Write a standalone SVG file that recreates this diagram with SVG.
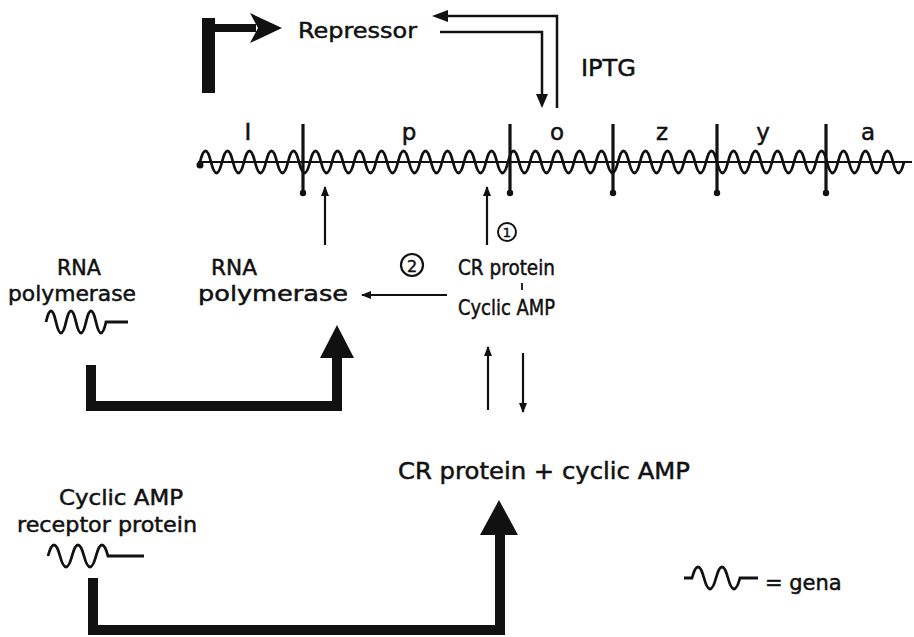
<svg xmlns="http://www.w3.org/2000/svg" width="914" height="637" viewBox="0 0 914 637">
<style>
text{font-family:"DejaVu Sans","Liberation Sans",sans-serif;fill:#111;stroke:#111;stroke-width:0.5}
.t18{font-size:21px}
.t20{font-size:21px}
.t22{font-size:23px}
.ln{stroke:#111;fill:none;stroke-width:2.5}
.thin{stroke:#111;fill:none;stroke-width:2.2}
.thick{stroke:#111;fill:none;stroke-width:10}
.wave{stroke:#111;fill:none;stroke-width:2.8}
.tick{stroke:#111;stroke-width:3.2}
.hd{fill:#111}
</style>
<defs>
<marker id="ah" viewBox="0 0 10 10" refX="9" refY="5" markerWidth="10" markerHeight="10" markerUnits="userSpaceOnUse" orient="auto">
<path d="M0,1 L10,5 L0,9 z" fill="#111"/>
</marker>
</defs>

<g id="repressor-gene-arrow">
<rect x="202" y="18" width="13" height="75" class="hd"/>
<rect x="208" y="24" width="48" height="8" class="hd"/>
<polygon points="282,28 250,13 258,28 250,43" class="hd"/>
</g>
<g id="repressor"><text x="298" y="38" class="t20" textLength="119" lengthAdjust="spacingAndGlyphs">Repressor</text></g>
<g id="iptg"><text x="581" y="76" class="t22" textLength="55" lengthAdjust="spacingAndGlyphs">IPTG</text></g>

<g id="operon">
<line x1="198" y1="162" x2="912" y2="162" stroke="#111" stroke-width="2.2"/>
<path class="wave" d="M200,162 q5.5,-22 11,0 t11,0 t11,0 t11,0 t11,0 t11,0 t11,0 t11,0 t11,0 t11,0 t11,0 t11,0 t11,0 t11,0 t11,0 t11,0 t11,0 t11,0 t11,0 t11,0 t11,0 t11,0 t11,0 t11,0 t11,0 t11,0 t11,0 t11,0 t11,0 t11,0 t11,0 t11,0 t11,0 t11,0 t11,0 t11,0 t11,0 t11,0 t11,0 t11,0 t11,0 t11,0 t11,0 t11,0 t11,0 t11,0 t11,0 t11,0 t11,0 t11,0 t11,0 t11,0 t11,0 t11,0 t11,0 t11,0 t11,0 t11,0 t11,0 t11,0 t11,0 t11,0 t11,0 t11,0"/>
<circle cx="200" cy="165" r="3.5" class="hd"/>
<line x1="303" y1="124" x2="303" y2="193" class="tick"/><circle cx="303" cy="193" r="3.2" class="hd"/>
<line x1="510" y1="124" x2="510" y2="193" class="tick"/><circle cx="510" cy="193" r="3.2" class="hd"/>
<line x1="613" y1="124" x2="613" y2="193" class="tick"/><circle cx="613" cy="193" r="3.2" class="hd"/>
<line x1="717" y1="124" x2="717" y2="193" class="tick"/><circle cx="717" cy="193" r="3.2" class="hd"/>
<line x1="826" y1="124" x2="826" y2="193" class="tick"/><circle cx="826" cy="193" r="3.2" class="hd"/>
<g class="t22" text-anchor="middle">
<text x="248" y="140">I</text>
<text x="409" y="140">p</text>
<text x="557" y="140">o</text>
<text x="662" y="140">z</text>
<text x="763" y="140">y</text>
<text x="868" y="140">a</text>
</g>
</g>

<g id="rnap-gene">
<text x="79" y="275" class="t18" text-anchor="middle" textLength="44" lengthAdjust="spacingAndGlyphs">RNA</text>
<text x="8" y="301" class="t18" textLength="128" lengthAdjust="spacingAndGlyphs">polymerase</text>
<path class="wave" d="M46,322 q5,-22 10,0 t10,0 t10,0 t10,0 t10,0 t10,0 l22,0"/>
</g>
<g id="rnap">
<text x="234" y="275" class="t18" text-anchor="middle" textLength="46" lengthAdjust="spacingAndGlyphs">RNA</text>
<text x="198" y="301" class="t18" textLength="150" lengthAdjust="spacingAndGlyphs">polymerase</text>
</g>
<g id="cr-camp-complex">
<text x="458" y="275" class="t18" textLength="97" lengthAdjust="spacingAndGlyphs">CR protein</text>
<line x1="522" y1="283" x2="522" y2="290" stroke="#111" stroke-width="1.8"/>
<text x="458" y="315" class="t18" textLength="97" lengthAdjust="spacingAndGlyphs">Cyclic AMP</text>
</g>
<g id="cr-plus-camp"><text x="398" y="479" class="t22" textLength="292" lengthAdjust="spacingAndGlyphs">CR protein + cyclic AMP</text></g>
<g id="crp-gene">
<text x="59" y="505" class="t18" textLength="124" lengthAdjust="spacingAndGlyphs">Cyclic AMP</text>
<text x="17" y="532" class="t18" textLength="180" lengthAdjust="spacingAndGlyphs">receptor protein</text>
<path class="wave" d="M48,556 q6,-22 12,0 t12,0 t12,0 t12,0 t12,0 l36,0"/>
</g>
<g id="legend">
<path class="wave" d="M684,578 l8,0 q6,-22 12,0 t12,0 t12,0 t12,0 l18,0" stroke-width="3.2"/>
<text x="765" y="590" class="t20">= gena</text>
</g>

<g id="connectors">
<path class="ln" d="M446,16 H557 V108"/>
<polygon points="432,16 448,10 448,22" class="hd"/>
<path class="ln" d="M440,32 H542 V96"/>
<polygon points="542,108 536,94 548,94" class="hd"/>

<line x1="325" y1="245" x2="325" y2="187" class="thin" marker-end="url(#ah)"/>
<line x1="487" y1="245" x2="487" y2="187" class="thin" marker-end="url(#ah)"/>
<circle cx="507" cy="232" r="9" fill="none" stroke="#111" stroke-width="2"/>
<text x="507" y="237" font-size="13" text-anchor="middle">1</text>
<circle cx="412" cy="265" r="11" fill="none" stroke="#111" stroke-width="2.2"/>
<text x="412" y="271.5" font-size="16" text-anchor="middle">2</text>
<line x1="447" y1="295" x2="362" y2="295" class="thin" marker-end="url(#ah)"/>

<line x1="488" y1="410" x2="488" y2="347" class="thin" marker-end="url(#ah)"/>
<line x1="523" y1="353" x2="523" y2="412" class="thin" marker-end="url(#ah)"/>

<path class="thick" d="M91,365 V406 H337 V352"/>
<polygon points="337,325 320,358 354,358" class="hd"/>

<path class="thick" d="M93,578 V630 H500 V528" stroke-width="9"/>
<polygon points="499,500 480,535 518,535" class="hd"/>
</g>
</svg>
